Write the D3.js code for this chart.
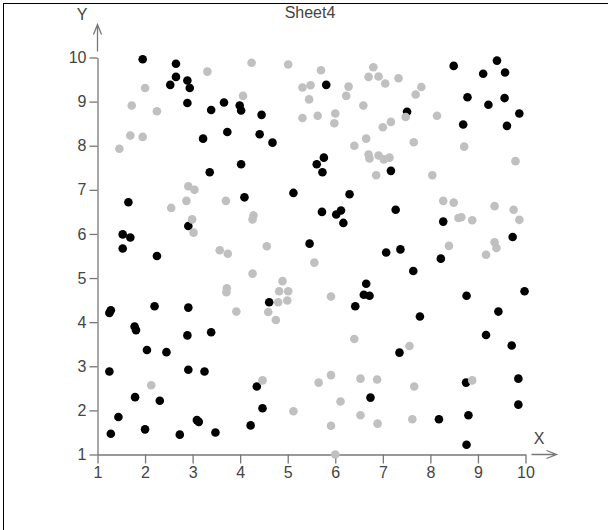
<!DOCTYPE html>
<html>
<head>
<meta charset="utf-8">
<script src="https://cdn.jsdelivr.net/npm/d3@7"></script>
<style>
  body { margin: 0; background: #fff; }
  text { font-family: "Liberation Sans", Arial, sans-serif; }
</style>
</head>
<body>
<div id="chart"></div>
<script>
// data
var title = "Sheet4";
var tickValues = [1, 2, 3, 4, 5, 6, 7, 8, 9, 10];

var blackX = [1.95, 2.65, 2.65, 2.53, 2.89, 2.94, 2.89, 3.39, 3.66, 3.99, 4.02, 3.22, 3.73, 3.36, 4.02,
  4.45, 4.41, 4.68, 5.81, 5.76, 5.61, 5.73, 8.49, 9.40, 9.11, 9.57, 8.78, 9.22, 9.56, 9.87, 7.51, 8.69,
  9.61, 7.17, 1.65, 2.91, 1.53, 1.69, 1.53, 2.25, 1.28, 1.25, 2.20, 2.91, 4.09, 5.12, 6.30, 5.72, 6.02,
  6.12, 6.17, 5.46, 4.61, 6.65, 6.60, 6.72, 6.42, 7.27, 8.27, 9.73, 7.07, 7.37, 8.22, 7.64, 8.76, 9.98,
  9.43, 1.78, 1.81, 2.89, 3.39, 2.04, 2.45, 1.25, 2.91, 3.25, 1.79, 2.31, 1.44, 3.09, 3.13, 1.28, 2.00,
  2.73, 3.48, 4.35, 4.47, 4.22, 6.74, 7.78, 9.17, 9.71, 7.35, 8.75, 9.85, 9.85, 8.18, 8.80, 8.76];
var blackY = [9.96, 9.86, 9.56, 9.38, 9.48, 9.31, 8.97, 8.81, 8.98, 8.91, 8.80, 8.16, 8.31, 7.40, 7.58,
  8.70, 8.26, 8.07, 9.38, 7.73, 7.58, 7.40, 9.81, 9.93, 9.63, 9.66, 9.10, 8.93, 9.08, 8.73, 8.77, 8.48,
  8.45, 7.43, 6.72, 6.18, 5.99, 5.92, 5.67, 5.50, 4.27, 4.21, 4.36, 4.33, 6.83, 6.93, 6.90, 6.50, 6.44,
  6.53, 6.25, 5.78, 4.45, 4.87, 4.62, 4.60, 4.36, 6.55, 6.28, 5.93, 5.58, 5.65, 5.44, 5.16, 4.60, 4.70,
  4.24, 3.90, 3.82, 3.70, 3.77, 3.37, 3.32, 2.88, 2.92, 2.88, 2.30, 2.22, 1.85, 1.78, 1.74, 1.47, 1.57,
  1.45, 1.50, 2.54, 2.05, 1.66, 2.29, 4.13, 3.71, 3.47, 3.31, 2.63, 2.72, 2.13, 1.80, 1.89, 1.22];

var grayX = [3.31, 2.00, 1.72, 2.25, 1.69, 1.95, 1.46, 4.06, 4.24, 5.01, 5.70, 6.80, 6.70, 6.91, 5.31,
  5.48, 6.28, 6.23, 5.45, 6.59, 6.00, 5.63, 5.31, 5.98, 6.65, 6.40, 6.70, 6.72, 6.86, 7.05, 7.33, 7.81,
  7.69, 7.48, 8.14, 7.00, 7.17, 7.65, 8.71, 9.79, 6.91, 7.02, 7.14, 8.04, 2.91, 3.04, 2.55, 2.87, 3.70,
  2.99, 3.02, 3.57, 3.74, 3.72, 3.71, 3.92, 4.28, 4.26, 4.56, 5.56, 4.26, 4.89, 4.82, 5.01, 4.80, 4.99,
  5.91, 4.59, 4.75, 6.40, 4.47, 5.12, 5.65, 5.91, 6.53, 6.88, 6.11, 6.53, 5.91, 6.89, 6.00, 7.56, 7.66,
  8.88, 7.62, 8.27, 8.49, 9.35, 9.75, 9.87, 8.59, 8.65, 8.88, 9.35, 9.39, 9.17, 8.39, 2.13];
var grayY = [9.68, 9.31, 8.91, 8.78, 8.23, 8.20, 7.93, 9.13, 9.88, 9.84, 9.71, 9.78, 9.56, 9.57, 9.32,
  9.37, 9.34, 9.13, 9.05, 8.91, 8.73, 8.68, 8.63, 8.51, 8.16, 8.00, 7.80, 7.71, 7.33, 9.41, 9.53, 9.33,
  9.16, 8.65, 8.68, 8.42, 8.54, 8.08, 7.98, 7.65, 7.78, 7.69, 7.73, 7.33, 7.08, 7.00, 6.59, 6.75, 6.75,
  6.33, 6.03, 5.63, 5.55, 4.77, 4.68, 4.24, 6.42, 6.33, 5.72, 5.35, 5.10, 4.93, 4.70, 4.70, 4.45, 4.49,
  4.58, 4.23, 4.05, 3.62, 2.68, 1.98, 2.63, 2.80, 2.72, 2.70, 2.20, 1.89, 1.65, 1.70, 1.00, 3.46, 2.54,
  2.68, 1.80, 6.75, 6.71, 6.63, 6.55, 6.32, 6.36, 6.38, 6.31, 5.81, 5.68, 5.53, 5.73, 2.57];

var W = 608, H = 530;
var axisColor = "#777", textColor = "#444";

var svg = d3.select("#chart").append("svg")
    .attr("width", W)
    .attr("height", H);

// frame (only left/top show inside the window)
svg.append("rect")
    .attr("x", 3.5).attr("y", 3.5)
    .attr("width", W).attr("height", H)
    .attr("fill", "none")
    .attr("stroke", "#000");

var x = d3.scaleLinear().domain([1, 10]).range([97.5, 525.5]);
var y = d3.scaleLinear().domain([1, 10]).range([454.5, 57.5]);

var xAxis = d3.axisBottom(x).tickValues(tickValues).tickSize(9).tickSizeOuter(0).tickPadding(3);
var yAxis = d3.axisLeft(y).tickValues(tickValues).tickSize(8).tickSizeOuter(0).tickPadding(3);

var gx = svg.append("g")
    .attr("transform", `translate(0, ${y(1)})`)
    .call(xAxis);
var gy = svg.append("g")
    .attr("transform", `translate(${x(1)}, 0)`)
    .call(yAxis);

[gx, gy].forEach(function(g) {
    g.selectAll("path, line").attr("stroke", axisColor).attr("stroke-width", 1.3);
    g.selectAll("text")
        .attr("fill", textColor)
        .style("font-size", "16px")
        .style("font-family", "'Liberation Sans', Arial, sans-serif");
});

// arrows beyond the axis ends
var ax = x(10) + 6, ay = y(1);
svg.append("path")
    .attr("d", `M${ax},${ay}H${ax + 25}M${ax + 15},${ay - 4}L${ax + 25},${ay}L${ax + 15},${ay + 4}`)
    .attr("fill", "none").attr("stroke", axisColor).attr("stroke-width", 1.3);
var bx = x(1), by = y(10) - 6;
svg.append("path")
    .attr("d", `M${bx},${by}V${by - 27}M${bx - 4},${by - 17}L${bx},${by - 27}L${bx + 4},${by - 17}`)
    .attr("fill", "none").attr("stroke", axisColor).attr("stroke-width", 1.3);

svg.append("text")
    .attr("x", 539).attr("y", 444)
    .attr("text-anchor", "middle")
    .attr("fill", textColor)
    .style("font-size", "16px")
    .text("X");
svg.append("text")
    .attr("x", 82).attr("y", 20)
    .attr("text-anchor", "middle")
    .attr("fill", textColor)
    .style("font-size", "16px")
    .text("Y");

svg.append("text")
    .attr("x", 310).attr("y", 18)
    .attr("text-anchor", "middle")
    .attr("fill", textColor)
    .style("font-size", "16px")
    .text(title);

function drawSeries(xs, ys, color) {
    svg.append("g").selectAll("circle")
        .data(d3.zip(xs, ys))
        .join("circle")
        .attr("cx", function(d) { return x(d[0]); })
        .attr("cy", function(d) { return y(d[1]); })
        .attr("r", 4.3)
        .attr("fill", color);
}

drawSeries(blackX, blackY, "#000");
drawSeries(grayX, grayY, "#c0c0c0");
</script>
</body>
</html>
